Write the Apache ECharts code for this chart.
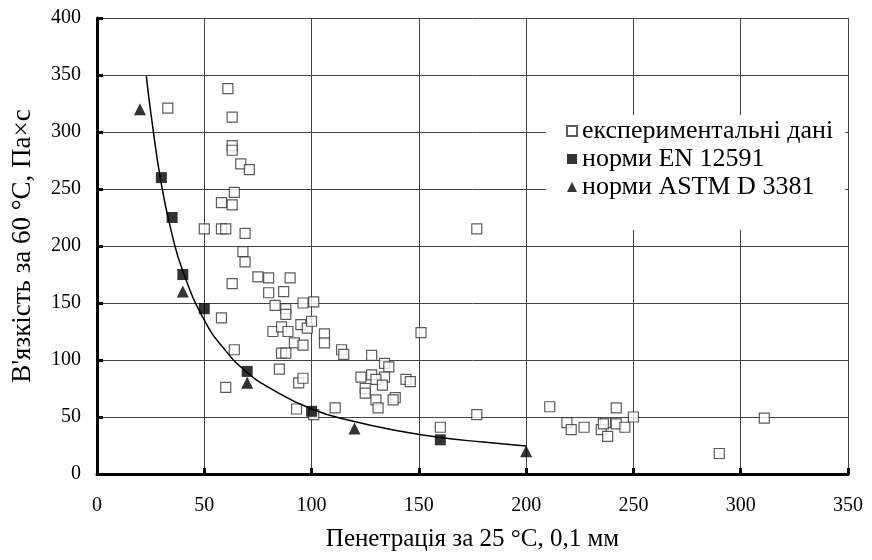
<!DOCTYPE html>
<html>
<head>
<meta charset="utf-8">
<script src="https://cdn.jsdelivr.net/npm/echarts@6/dist/echarts.min.js"></script>
<style>
  html, body { margin: 0; padding: 0; background: #fff; }
  #chart { width: 872px; height: 560px; }
</style>
</head>
<body>
<div id="chart"></div>
<script>
// experimental points [penetration, viscosity]
const expPoints = [
  [33, 321], [61, 338], [63, 313], [63, 288], [63, 284], [67, 272], [71, 267],
  [64, 247], [58, 238], [63, 236], [50, 215], [58, 215], [60, 215], [69, 211],
  [68, 195], [69, 186], [63, 167], [75, 173], [80, 172], [90, 172], [80, 159],
  [87, 160], [83, 148], [88, 145], [58, 137], [64, 109], [85, 92], [60, 76],
  [94, 80], [96, 84], [93, 57], [101, 52], [88, 140], [82, 125], [86, 129],
  [89, 125], [92, 115], [96, 113], [95, 131], [98, 128], [100, 134], [86, 106],
  [88, 106], [96, 150], [101, 151], [106, 123], [106, 115], [114, 109],
  [115, 105], [128, 104], [134, 97], [136, 94], [123, 85], [128, 87], [134, 85],
  [130, 83], [133, 78], [125, 75], [125, 71], [144, 83], [146, 81], [130, 65],
  [131, 58], [139, 67], [138, 65], [111, 58], [151, 124], [177, 52], [160, 41],
  [177, 215], [211, 59], [219, 45], [221, 39], [227, 41], [237, 45], [235, 39],
  [238, 33], [242, 58], [242, 44], [246, 41], [250, 50], [290, 18], [311, 49],
  [236, 44]
];
// EN 12591 norms
const enPoints = [[30, 260], [35, 225], [40, 175], [50, 145], [70, 90], [100, 55], [160, 30]];
// ASTM D 3381 norms
const astmPoints = [[20, 320], [40, 160], [70, 80], [120, 40], [200, 20]];
// trend curve
const trendPoints = [
  [23, 349], [25, 318], [30, 254], [35, 210], [40, 178], [50, 135], [60, 108],
  [70, 89], [80, 76], [100, 57], [120, 46], [140, 38], [160, 32], [180, 28], [200, 24.5]
];
const seriesNames = ["експериментальні дані", "норми EN 12591", "норми ASTM D 3381"];

const font = "'Liberation Serif', 'Times New Roman', serif";
const chart = echarts.init(document.getElementById("chart"));

chart.setOption({
  animation: false,
  backgroundColor: "#fff",
  textStyle: { fontFamily: font, color: "#000" },
  grid: { left: 97, right: 24, top: 18, bottom: 86 },
  legend: {
    data: seriesNames,
    orient: "vertical",
    left: 546,
    top: 115,
    padding: [3, 12, 30, 20],
    itemGap: 2,
    itemWidth: 10,
    itemHeight: 10,
    backgroundColor: "#fff",
    textStyle: { fontFamily: font, fontSize: 26, color: "#000" }
  },
  xAxis: {
    type: "value",
    min: 0,
    max: 350,
    interval: 50,
    name: "Пенетрація за 25 °С, 0,1 мм",
    nameLocation: "middle",
    nameGap: 53,
    nameTextStyle: { fontFamily: font, fontSize: 25, color: "#000" },
    axisLine: { show: true, onZero: false, lineStyle: { color: "#000", width: 3 } },
    axisTick: { show: true, inside: true, length: 6, lineStyle: { color: "#000", width: 3 } },
    axisLabel: { fontFamily: font, fontSize: 20, color: "#000", margin: 22 },
    splitLine: { show: true, lineStyle: { color: "#444", width: 1 } }
  },
  yAxis: {
    type: "value",
    min: 0,
    max: 400,
    interval: 50,
    name: "В'язкість за 60 °С, Па×с",
    nameLocation: "middle",
    nameGap: 61,
    nameTextStyle: { fontFamily: font, fontSize: 27, color: "#000" },
    axisLine: { show: true, lineStyle: { color: "#000", width: 3 } },
    axisTick: { show: true, inside: true, length: 6, lineStyle: { color: "#000", width: 3 } },
    axisLabel: { fontFamily: font, fontSize: 20, color: "#000", margin: 16 },
    splitLine: { show: true, lineStyle: { color: "#444", width: 1 } }
  },
  series: [
    {
      name: "trend",
      type: "line",
      data: trendPoints,
      smooth: true,
      showSymbol: false,
      lineStyle: { color: "#000", width: 1.5 },
      z: 3
    },
    {
      name: seriesNames[0],
      type: "scatter",
      data: expPoints,
      symbol: "rect",
      symbolSize: 10,
      itemStyle: { color: "#fff", borderColor: "#333", borderWidth: 1.2 },
      z: 2
    },
    {
      name: seriesNames[1],
      type: "scatter",
      data: enPoints,
      symbol: "rect",
      symbolSize: 11,
      itemStyle: { color: "#000" },
      z: 4
    },
    {
      name: seriesNames[2],
      type: "scatter",
      data: astmPoints,
      symbol: "triangle",
      symbolSize: 12,
      itemStyle: { color: "#000" },
      z: 4
    }
  ]
});
</script>
</body>
</html>
